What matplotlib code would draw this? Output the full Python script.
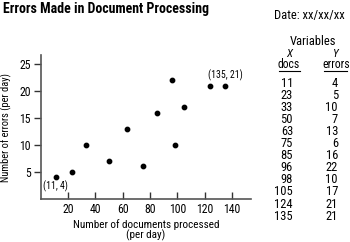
import matplotlib
matplotlib.use('Agg')
import matplotlib.pyplot as plt

docs = [11, 23, 33, 50, 63, 75, 85, 96, 98, 105, 124, 135]
errors = [4, 5, 10, 7, 13, 6, 16, 22, 10, 17, 21, 21]
x_ticks = [20, 40, 60, 80, 100, 120, 140]
y_ticks = [5, 10, 15, 20, 25]

plt.rcParams['font.family'] = ['Roboto Condensed', 'Liberation Sans Narrow', 'Roboto', 'DejaVu Sans']

W, H = 350, 242
fig = plt.figure(figsize=(W / 100, H / 100), dpi=100)
ax = fig.add_axes([40.7 / W, 1 - 198.8 / H, (251 - 40.7) / W, (198.8 - 55) / H])

ax.scatter(docs, errors, s=10, color='black', zorder=3)
ax.set_xlim(0, 154)
ax.set_ylim(0, 26.7)
ax.set_xticks(x_ticks)
ax.set_yticks(y_ticks)

for side in ['top', 'right']:
    ax.spines[side].set_visible(False)
for side in ['left', 'bottom']:
    ax.spines[side].set_color('#555555')
    ax.spines[side].set_linewidth(1.2)
ax.tick_params(axis='x', direction='in', length=5, width=1, color='#333333',
               labelsize=8.5, pad=3)
ax.tick_params(axis='y', direction='out', length=5, width=1, color='#333333',
               labelsize=8.5, pad=2)

# point labels
ax.annotate('(11, 4)', (docs[0], errors[0]), xytext=(0, -9), textcoords='offset pixels',
            ha='center', va='center', fontsize=7)
ax.annotate('(135, 21)', (docs[-1], errors[-1]), xytext=(0, 10), textcoords='offset pixels',
            ha='center', va='center', fontsize=7)

ax.set_xlabel('Number of documents processed\n(per day)', fontsize=8, labelpad=2,
              linespacing=1.0)
fig.text(6 / W, 1 - 127.5 / H, 'Number of errors (per day)', rotation=90,
         ha='center', va='center', fontsize=7.5)

# title and date
fig.text(3 / W, 1 - 9.5 / H, 'Errors Made in Document Processing', fontsize=10,
         fontweight='bold', ha='left', va='center')
fig.text(345 / W, 1 - 15 / H, 'Date: xx/xx/xx', fontsize=9, ha='right', va='center')

# variables table
fig.text(312.7 / W, 1 - 41.7 / H, 'Variables', fontsize=9, ha='center', va='center')
fig.text(289 / W, 1 - 54 / H, 'X', fontsize=8, style='italic', ha='center', va='center')
fig.text(335 / W, 1 - 54 / H, 'Y', fontsize=8, style='italic', ha='center', va='center')
fig.text(289 / W, 1 - 65 / H, 'docs', fontsize=8.5, ha='center', va='center')
fig.text(336 / W, 1 - 65 / H, 'errors', fontsize=8.5, ha='center', va='center')
fig.add_artist(plt.Line2D([279 / W, 300 / W], [1 - 71 / H] * 2, color='black', lw=0.8))
fig.add_artist(plt.Line2D([324 / W, 347 / W], [1 - 71 / H] * 2, color='black', lw=0.8))

for i, (d, e) in enumerate(zip(docs, errors)):
    y = 1 - (83 + i * 12.1) / H
    fig.text(293 / W, y, str(d), fontsize=9, ha='right', va='center')
    fig.text(338 / W, y, str(e), fontsize=9, ha='right', va='center')

fig.savefig('out.png', dpi=100)
